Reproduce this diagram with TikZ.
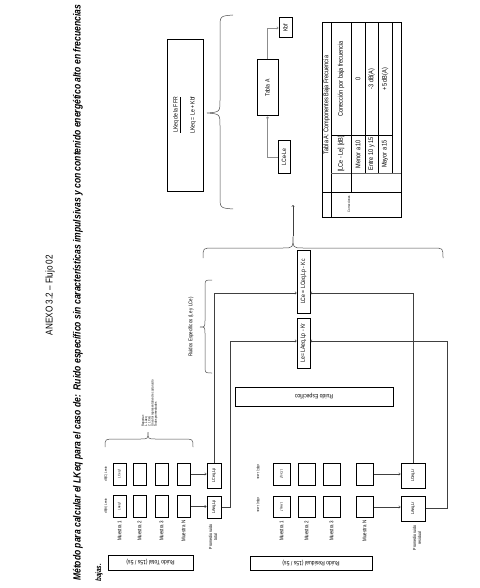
\documentclass[tikz,border=0pt]{standalone}
\usepackage{fontspec}
\setmainfont{Liberation Sans}[FakeStretch=0.82]
\usetikzlibrary{arrows.meta,calc}
\begin{document}
\begin{tikzpicture}[x=1pt,y=-1pt,
  bx/.style 2 args={draw,line width=0.6pt,inner sep=0,minimum width=#1pt,minimum height=#2pt},
  tbx/.style 2 args={draw,line width=1pt,inner sep=0,minimum width=#1pt,minimum height=#2pt},
  tx/.style={inner sep=0,font=\fontsize{6.2}{7}\selectfont},
  md/.style={font=\fontsize{5.4}{6}\selectfont},
  sm/.style={font=\fontsize{4.4}{5}\selectfont},
  xs/.style={font=\fontsize{3.4}{3.2}\selectfont},
  tb/.style={font=\fontsize{6.8}{7.5}\selectfont},
  r90/.style={tx,rotate=90},
  rm90/.style={tx,rotate=-90},
  r180/.style={tx,rotate=180},
  conn/.style={draw=black!75,line width=0.5pt,-{To[length=2pt,width=3pt]}},
  gconn/.style={draw=black!45,line width=0.6pt,-{To[length=2pt,width=3pt]}},
  brc/.style={draw=black!70,line width=0.5pt}
]
\useasboundingbox (0,0) rectangle (479,588);
\fill[white] (0,0) rectangle (479,588);

% ---------- header ----------
\node[rotate=90,inner sep=0] (title) at (50,295) {\resizebox{80pt}{!}{ANEXO 3.2 -- Flujo 02}};
\node[rotate=90,inner sep=0,anchor=west] (met) at (78,581) {\resizebox{576pt}{!}{\itshape\bfseries Método para calcular el LKeq para el caso de:\ \ Ruido específico sin características impulsivas y con contenido energético alto en frecuencias}};
\node[rotate=90,inner sep=0,anchor=west] (baj) at (99,582) {\resizebox{18pt}{!}{\itshape\bfseries bajas.}};

% ---------- top cluster ----------
\node[bx={36}{152}] (ffr) at (185,115) {};
\node[r90] (ffr1) at (177,115) {\underline{LKeq de la FFR}};
\node[r90] (ffr2) at (193,115) {LKeq = Le + Kbf};
\draw[brc] (233,15) .. controls (220,16) .. (220,28) -- (220,100) .. controls (220,112) .. (207,113)
  .. controls (220,114) .. (220,126) -- (220,196) .. controls (220,208) .. (233,209);

\node[tbx={21}{56}] (tabla) at (267.5,88) {};
\node[r90] at (tabla) {Tabla A};
\node[tbx={12}{32}] (lcele) at (284,157) {};
\node[r90] at (lcele) {LCe-Le};
\node[tbx={13}{20}] (kbf) at (285.5,28) {};
\node[r90] at (kbf) {Kbf};
\draw[gconn] (lcele.west) -| (tabla.south);
\draw[gconn] (tabla.north) |- (kbf.west);

% ---------- table ----------
\draw[line width=1pt] (322,23) rectangle (401,217);
\draw[line width=0.6pt] (331,23) -- (331,217);
\draw[line width=0.6pt] (322,192) -- (401,192);
\draw[line width=0.4pt,black!60] (331,173) -- (401,173);
\draw[line width=0.4pt] (351,23) -- (351,192);
\draw[line width=0.4pt] (365,23) -- (365,173);
\draw[line width=0.4pt] (378,23) -- (378,173);
\draw[line width=0.4pt] (392,23) -- (392,173);
\draw[line width=0.4pt] (331,135) -- (392,135);
\node[r90,tb] (tt) at (326.5,105) {Tabla A: Componentes Baja Frecuencia};
\node[r90,tb] at (341,154) {[LCe - Le] [dB]};
\node[r90,tb] at (341,79) {Corrección por baja frecuencia};
\node[r90,tb] at (358,154) {Menor a 10};
\node[r90,tb] at (358,79) {0};
\node[r90,tb] at (371.5,154) {Entre 10 y 15};
\node[r90,tb] at (371.5,79) {-3 dB(A)};
\node[r90,tb] at (385,154) {Mayor a 15};
\node[r90,tb] at (385,79) {+5 dB(A)};
\node[r90,xs] at (349,204) {Correcciones};

% ---------- middle ----------
\draw[brc] (203,258) .. controls (203,248) .. (213,248) -- (283,248) .. controls (293,248) .. (293,236)
  .. controls (293,248) .. (303,248) -- (433,248) .. controls (443,248) .. (443,258);
\coordinate (btip) at (293,236);
\coordinate (bup) at (293,205);
\draw[conn] (btip) -- (bup);

\draw[brc] (212,280) .. controls (205,280) .. (205,287) -- (205,320) .. controls (205,327) .. (200,327)
  .. controls (205,327) .. (205,334) -- (205,366) .. controls (205,373) .. (212,373);
\node[r90,md] (respec) at (191,327) {Ruidos Específicos (Le y LCe)};

\node[bx={13}{63}] (lce) at (303.5,281.5) {};
\node[r90] at (lce) {LCe = LCeq,Lp - Kc};
\node[bx={13}{50}] (le) at (303.5,343) {};
\node[r90] at (le) {Le= LAeq,Lp - Kr};

\node[bx={158}{19}] (resp) at (314,396.5) {};
\node[r180] at (resp) {Ruido Específico};

% Reportar brace
\draw[brc] (105,447) .. controls (105,439) .. (115,439) -- (140,439) .. controls (148,439) .. (148,432)
  .. controls (148,439) .. (156,439) -- (183,439) .. controls (193,439) .. (193,447);
\node[r90,anchor=north west,align=left,xs] (rep) at (141.5,427)
  {Reportar:\\1. LAeq\\2. LCeq\\Un valor representativo de cada ruido\\Todos promediados};

% ---------- Ruido Total ----------
\foreach \c/\x in {1/119.5,2/139.5,3/161.5,N/183.5}{
  \node[tbx={13}{22}] (tC\c) at (\x,474) {};
  \node[tbx={13}{22}] (tA\c) at (\x,506.5) {};
}
\node[r90,xs] at (tC1) {LCeq,f};
\node[r90,xs] at (tA1) {LAeq,f};
\node[r90,xs] at (106,474) {dB(C) Lento};
\node[r90,xs] at (106,506) {dB(A) Lento};
\node[r90,md] at (119.5,531) {Muestra 1};
\node[r90,md] at (139.5,531) {Muestra 2};
\node[r90,md] at (161.5,531) {Muestra 3};
\node[r90,md] at (183.5,531) {Muestra N};
\node[tbx={14}{25}] (tLC) at (214,475.5) {};
\node[r90,sm] at (tLC) {LCeq,Lp};
\node[tbx={14}{22}] (tLA) at (214,507) {};
\node[r90,sm] at (tLA) {LAeq,Lp};
\node[r90,sm,align=center] at (213,537) {Promedio ruido\\total};
\node[bx={85}{15}] (rtot) at (150.5,562.5) {};
\node[r180] at (rtot) {Ruido Total (15s / 5s)};
\draw[conn] (tCN.east) -- (tLC.west |- tCN.east);
\draw[conn] (tAN.east) -- (tLA.west |- tAN.east);

% ---------- Ruido Residual ----------
\foreach \c/\x in {1/281.5,2/306.5,3/331.5,N/364.5}{
  \node[tbx={17}{22}] (rC\c) at (\x,474) {};
  \node[tbx={17}{21}] (rA\c) at (\x,507) {};
}
\node[rm90,xs] at (rC1) {LCeq,f};
\node[rm90,xs] at (rA1) {LAeq,f};
\node[rm90,xs] at (258,472) {dB(C) Lento};
\node[rm90,xs] at (258,505) {dB(A) Lento};
\node[r90,md] at (281.5,531) {Muestra 1};
\node[r90,md] at (306.5,531) {Muestra 2};
\node[r90,md] at (331.5,531) {Muestra 3};
\node[r90,md] at (364.5,531) {Muestra N};
\node[tbx={24}{25}] (rLC) at (413,475.5) {};
\node[r90,sm] at (rLC) {LCeq,Lr};
\node[tbx={24}{25}] (rLA) at (413,508.5) {};
\node[r90,sm] at (rLA) {LAeq,Lr};
\node[r90,sm,align=center] at (417,538) {Promedio ruido\\residual};
\node[bx={122}{14}] (rres) at (311,563.5) {};
\node[r180] at (rres) {Ruido Residual (15s / 5s)};
\draw[conn] (rCN.east) -- (rLC.west |- rCN.east);
\draw[conn] (rAN.east) -- (rLA.west |- rAN.east);

% ---------- connectors to Le / LCe ----------
\coordinate (yC) at (0,293);
\coordinate (yA) at (0,341);
\coordinate (xA) at (230,0);
\coordinate (xR) at (447,0);
\draw[conn] (tLC.north) -- (tLC.north |- yC) -- (lce.west |- yC);
\draw[conn] (tLA.east) -- (xA |- tLA.east) -- (xA |- yA) -- (le.west |- yA);
\draw[conn] (rLC.north) -- (rLC.north |- yC) -- (lce.east |- yC);
\draw[conn] (rLA.east) -- (xR |- rLA.east) -- (xR |- yA) -- (le.east |- yA);
\end{tikzpicture}
\end{document}
